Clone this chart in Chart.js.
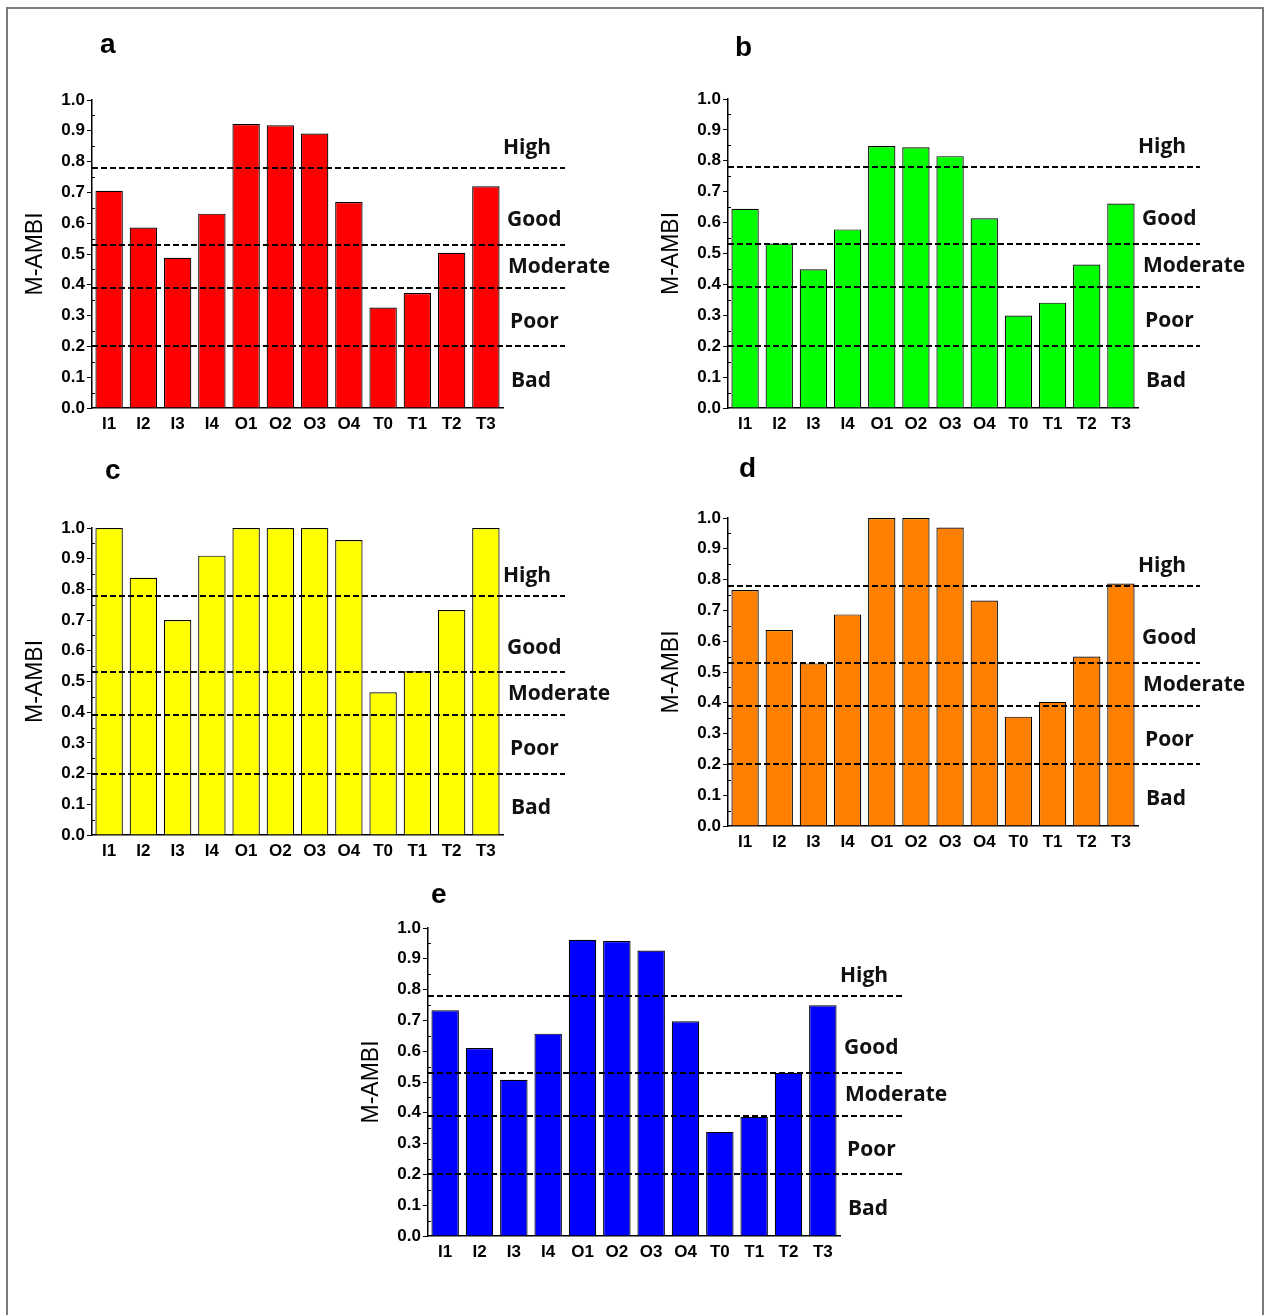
<!DOCTYPE html>
<html>
<head>
<meta charset="utf-8">
<title>M-AMBI by station</title>
<script src="https://cdn.jsdelivr.net/npm/chart.js@4.4.1/dist/chart.umd.min.js"></script>
<style>
  html, body { margin: 0; padding: 0; background: #fff; }
  body { width: 1267px; height: 1315px; position: relative; overflow: hidden; }
  #frame { position: absolute; left: 6px; top: 7px; width: 1254px; height: 1330px; border: 2px solid #7a7a7a; }
  canvas { position: absolute; }
</style>
</head>
<body>
<div id="frame"></div>

<script>
// stations along the x axis
const stations = ['I1', 'I2', 'I3', 'I4', 'O1', 'O2', 'O3', 'O4', 'T0', 'T1', 'T2', 'T3'];

// M-AMBI per station, one list per panel
const mambiA = [0.705, 0.586, 0.488, 0.631, 0.922, 0.918, 0.891, 0.669, 0.326, 0.373, 0.504, 0.720];
const mambiB = [0.645, 0.532, 0.449, 0.578, 0.848, 0.844, 0.815, 0.614, 0.299, 0.341, 0.464, 0.662];
const mambiC = [1.000, 0.838, 0.700, 0.910, 1.000, 1.000, 1.000, 0.961, 0.465, 0.533, 0.733, 1.000];
const mambiD = [0.766, 0.636, 0.528, 0.687, 1.000, 1.000, 0.969, 0.732, 0.355, 0.403, 0.550, 0.787];
const mambiE = [0.733, 0.610, 0.507, 0.657, 0.962, 0.958, 0.927, 0.697, 0.338, 0.387, 0.530, 0.749];

// ecological status class boundaries and names
const boundaries = [0.78, 0.53, 0.39, 0.20];
const statusNames = ['High', 'Good', 'Moderate', 'Poor', 'Bad'];

// y ticks
const yTicks = [0.0, 0.1, 0.2, 0.3, 0.4, 0.5, 0.6, 0.7, 0.8, 0.9, 1.0];

// where the status names sit (in axis units) and how far right of the plot
const nameLevels = [0.845, 0.61, 0.458, 0.28, 0.088];
const nameShift = [0, 4, 5, 7, 8];

// plot box of every panel: [left, top, right, bottom], letter offset [dx, dy]
const panels = [
  { letter: 'a', values: mambiA, color: '#ff0000', box: [92, 100, 503, 408], mark: [8, -47] },
  { letter: 'b', values: mambiB, color: '#00ff00', box: [728, 99, 1138, 408], mark: [7, -43] },
  { letter: 'c', values: mambiC, color: '#ffff00', box: [92, 528, 503, 835], mark: [13, -49] },
  { letter: 'd', values: mambiD, color: '#ff8000', box: [728, 518, 1138, 826], mark: [11, -41] },
  { letter: 'e', values: mambiE, color: '#0000ff', box: [428, 928, 840, 1236], mark: [3, -25] }
];

const PAD_L = 80, PAD_T = 80, PAD_R = 130, PAD_B = 35;
const FONT = 'Liberation Sans, Arial, sans-serif';

// dashed class lines, class names, minor ticks, y title and panel letter
const statusPlugin = {
  id: 'status',
  afterDatasetsDraw(chart, args, opts) {
    const ctx = chart.ctx;
    const area = chart.chartArea;
    const y = chart.scales.y;

    ctx.save();
    // minor ticks pointing into the plot
    ctx.strokeStyle = '#000';
    ctx.lineWidth = 1;
    for (let i = 0; i < yTicks.length - 1; i++) {
      const py = Math.round(y.getPixelForValue((yTicks[i] + yTicks[i + 1]) / 2)) + 0.5;
      ctx.beginPath();
      ctx.moveTo(area.left, py);
      ctx.lineTo(area.left + 3, py);
      ctx.stroke();
    }

    // class boundaries
    ctx.setLineDash([6, 3]);
    ctx.lineWidth = 2;
    ctx.strokeStyle = '#000';
    boundaries.forEach(b => {
      const py = Math.round(y.getPixelForValue(b));
      ctx.beginPath();
      ctx.moveTo(area.left, py);
      ctx.lineTo(area.right + 62, py);
      ctx.stroke();
    });
    ctx.setLineDash([]);

    // class names
    ctx.fillStyle = '#111';
    ctx.font = 'bold 21px "Open Sans"';
    ctx.textAlign = 'left';
    ctx.textBaseline = 'middle';
    statusNames.forEach((name, i) => {
      ctx.fillText(name, area.right + nameShift[i], y.getPixelForValue(nameLevels[i]));
    });

    // axis title
    ctx.save();
    ctx.translate(area.left - 56, (area.top + area.bottom) / 2);
    ctx.rotate(-Math.PI / 2);
    ctx.font = '23px ' + FONT;
    ctx.textAlign = 'center';
    ctx.textBaseline = 'middle';
    ctx.fillStyle = '#000';
    ctx.fillText('M-AMBI', 0, 0);
    ctx.restore();

    // panel letter
    ctx.font = 'bold 28px ' + FONT;
    ctx.textAlign = 'left';
    ctx.textBaseline = 'alphabetic';
    ctx.fillStyle = '#000';
    ctx.fillText(opts.letter, area.left + opts.mark[0], area.top + opts.mark[1]);
    ctx.restore();
  }
};

panels.forEach(p => {
  const [l, t, r, b] = p.box;
  const cv = document.createElement('canvas');
  cv.width = (r - l) + PAD_L + PAD_R;
  cv.height = (b - t) + PAD_T + PAD_B;
  cv.style.left = (l - PAD_L) + 'px';
  cv.style.top = (t - PAD_T) + 'px';
  document.body.appendChild(cv);

  new Chart(cv.getContext('2d'), {
    type: 'bar',
    data: {
      labels: stations,
      datasets: [{
        data: p.values,
        backgroundColor: p.color,
        borderColor: '#000',
        borderWidth: 1.2,
        barPercentage: 0.8,
        categoryPercentage: 1.0
      }]
    },
    options: {
      responsive: false,
      animation: false,
      devicePixelRatio: 1,
      layout: { padding: { left: 0, top: PAD_T, right: PAD_R, bottom: 0 } },
      plugins: {
        legend: { display: false },
        tooltip: { enabled: false },
        status: { letter: p.letter, mark: p.mark }
      },
      scales: {
        x: {
          offset: true,
          grid: { display: false, drawTicks: false },
          border: { display: true, color: '#000', width: 1.5 },
          ticks: {
            color: '#000',
            padding: 6,
            font: { family: FONT, size: 17, weight: 'bold' },
            maxRotation: 0,
            autoSkip: false
          },
          afterFit(scale) { scale.height = PAD_B; }
        },
        y: {
          min: 0,
          max: 1,
          afterBuildTicks(scale) { scale.ticks = yTicks.map(v => ({ value: v })); },
          grid: { display: true, drawOnChartArea: false, drawTicks: true, tickLength: 5, color: '#000', lineWidth: 1 },
          border: { display: true, color: '#000', width: 1.5 },
          ticks: {
            color: '#000',
            padding: 2,
            font: { family: FONT, size: 17, weight: 'bold' },
            callback: v => v.toFixed(1)
          },
          afterFit(scale) { scale.width = PAD_L; }
        }
      }
    },
    plugins: [statusPlugin]
  });
});
</script>
</body>
</html>
